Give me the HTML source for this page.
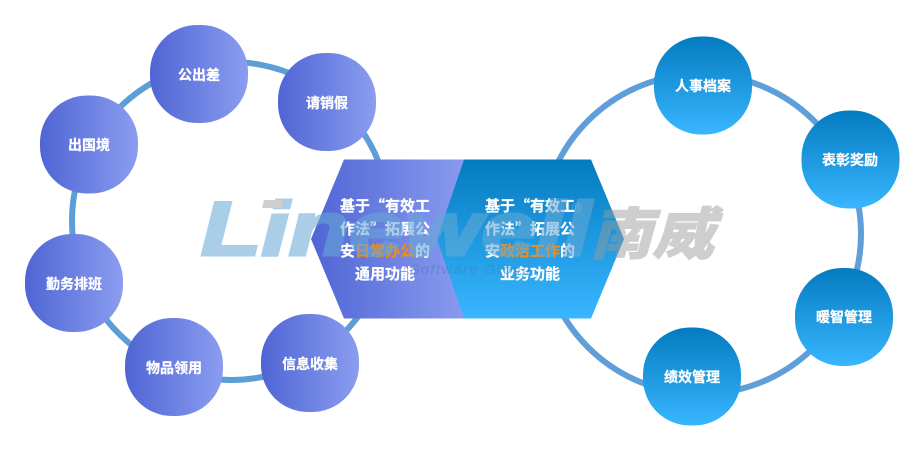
<!DOCTYPE html>
<html><head><meta charset="utf-8"><style>
html,body{margin:0;padding:0;background:#fff;width:923px;height:450px;overflow:hidden}
svg{display:block}
text{font-family:"Noto Sans CJK SC","WenQuanYi Zen Hei",sans-serif}
.n{font-size:14px;font-weight:700;fill:#fff;text-anchor:middle;stroke:#fff;stroke-width:.25}
.h{font-size:15px;font-weight:700;fill:#fff;text-anchor:middle;stroke:#fff;stroke-width:.25}
.o{fill:#f7890f;stroke:#f7890f}
.wm{font-family:"Liberation Sans",sans-serif;font-weight:700;font-style:italic}
</style></head><body>
<svg width="923" height="450" viewBox="0 0 923 450" xmlns="http://www.w3.org/2000/svg">
<defs>
<linearGradient id="l" x1="0" y1="0" x2="1" y2="0"><stop offset="0" stop-color="#4f65d4"/><stop offset="1" stop-color="#8b9df0"/></linearGradient>
<linearGradient id="r" x1="0" y1="0" x2="0" y2="1"><stop offset="0" stop-color="#047bc0"/><stop offset="1" stop-color="#38b6ff"/></linearGradient>
</defs>
<circle cx="231" cy="221" r="159" fill="none" stroke="#5b9fd6" stroke-width="6"/>
<circle cx="701" cy="234" r="160" fill="none" stroke="#5f9ed8" stroke-width="6"/>

<g fill="url(#l)">
<rect x="150" y="25" width="98" height="98" rx="47"/>
<rect x="278" y="53" width="98" height="98" rx="47"/>
<rect x="40" y="95.500" width="98" height="98" rx="47"/>
<rect x="25" y="234" width="98" height="98" rx="47"/>
<rect x="125" y="318" width="98" height="98" rx="47"/>
<rect x="261" y="314" width="98" height="98" rx="47"/>
</g>
<g fill="url(#r)">
<rect x="654" y="36.500" width="98" height="98" rx="47"/>
<rect x="801.500" y="110.500" width="98" height="98" rx="47"/>
<rect x="795" y="268" width="98" height="98" rx="47"/>
<rect x="643" y="327.500" width="98" height="98" rx="47"/>
</g>

<polygon points="344,159.500 470,159.500 470,318.500 344,318.500 311,239" fill="url(#l)"/>
<polygon points="464,159.500 591,159.500 624,239 591,318.500 464,318.500 437,239" fill="url(#r)"/>

<text class="n" x="199" y="80">公出差</text>
<text class="n" x="327" y="108">请销假</text>
<text class="n" x="89" y="150">出国境</text>
<text class="n" x="74" y="289">勤务排班</text>
<text class="n" x="174" y="373">物品领用</text>
<text class="n" x="310" y="369">信息收集</text>
<text class="n" x="703" y="91">人事档案</text>
<text class="n" x="850" y="165">表彰奖励</text>
<text class="n" x="844" y="322">暖智管理</text>
<text class="n" x="692" y="382">绩效管理</text>

<text class="h" x="385" y="211">基于“有效工</text>
<text class="h" x="385" y="234">作法”拓展公</text>
<text class="h" x="385" y="256">安<tspan class="o">日常办公</tspan>的</text>
<text class="h" x="385" y="279">通用功能</text>
<text class="h" x="530" y="211">基于“有效工</text>
<text class="h" x="530" y="234">作法”拓展公</text>
<text class="h" x="530" y="256">安<tspan class="o">政治工作</tspan>的</text>
<text class="h" x="530" y="279">业务功能</text>

<g opacity=".56">
<text class="wm" x="201" y="255" font-size="76" textLength="390" lengthAdjust="spacingAndGlyphs" fill="#68a9d6" stroke="#68a9d6" stroke-width="3">Linewell</text>
</g>
<polygon points="264,200 283,200 281,208 262,208" fill="#cfcfcf"/>
<text class="wm" x="410" y="274" font-size="14" textLength="120" fill="#4f78b8" fill-opacity=".5" style="font-weight:400">Software Group</text>
<text class="wm" x="572" y="212" font-size="13" fill="#9ac0dc" fill-opacity=".6" style="font-weight:400">®</text>
<g opacity=".48">
<text x="590" y="254" font-size="56" font-weight="900" fill="#9a9a9a" stroke="#9a9a9a" stroke-width="1" font-style="italic" textLength="124" lengthAdjust="spacingAndGlyphs">南威</text>
</g>
</svg>
</body></html>
